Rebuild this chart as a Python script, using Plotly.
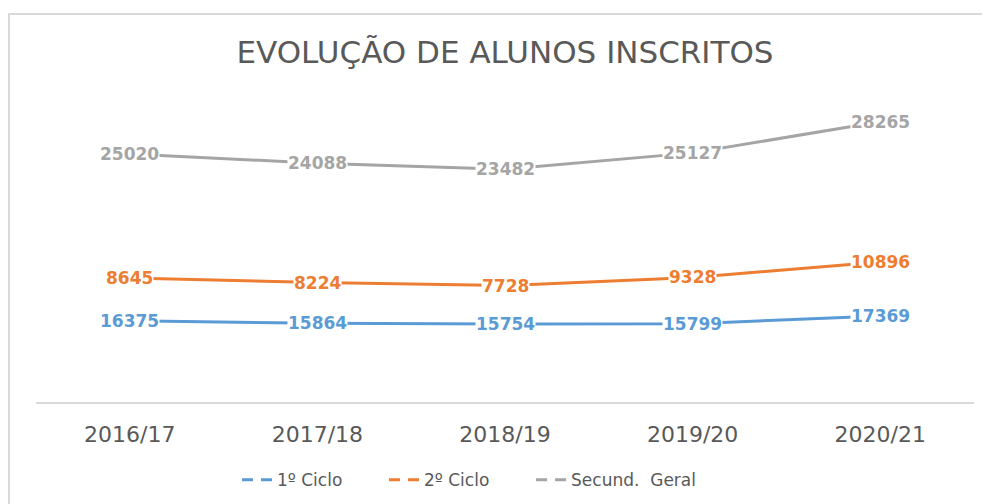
import numpy as np
import plotly.graph_objects as go

anos = ["2016/17", "2017/18", "2018/19", "2019/20", "2020/21"]
ciclo1 = [16375, 15864, 15754, 15799, 17369]
ciclo2 = [8645, 8224, 7728, 9328, 10896]
secund = [25020, 24088, 23482, 25127, 28265]

series = [
    ("1º Ciclo", ciclo1, "#5B9BD5"),
    ("2º Ciclo", ciclo2, "#ED7D31"),
    ("Secund.  Geral", secund, "#A5A5A5"),
]
legendas = ["legend", "legend2", "legend3"]
leg_x = [0.2143, 0.3710, 0.5278]

fig = go.Figure()
acum = np.zeros(len(anos))
annotations = []
for (nome, vals, cor), leg in zip(series, legendas):
    # stacked line chart (like Excel "linhas empilhadas")
    fig.add_trace(go.Scatter(
        x=anos, y=vals, name=nome, mode='lines',
        stackgroup='um', fill='none',
        line=dict(color=cor, width=3),
        showlegend=False,
    ))
    acum = acum + np.array(vals)
    for a, v, t in zip(anos, acum, vals):
        annotations.append(dict(
            x=a, y=v, text=str(t), showarrow=False,
            font=dict(family="DejaVu Sans", size=17, color=cor, weight="bold"),
            bgcolor="white", borderpad=0,
        ))
    # legend entry (dashed symbol like the original)
    fig.add_trace(go.Scatter(
        x=[None], y=[None], name=nome, mode='lines', legend=leg,
        line=dict(color=cor, width=3, dash='11px,8px'),
    ))

leg_style = dict(
    orientation='h', xanchor='left', y=-0.225, yanchor='middle',
    font=dict(family="DejaVu Sans", size=17, color="#595959"),
)

fig.update_layout(
    width=990, height=504,
    margin=dict(l=28, r=24, t=47, b=110),
    paper_bgcolor="white", plot_bgcolor="white",
    title=dict(
        text="EVOLUÇÃO DE ALUNOS INSCRITOS",
        x=497 / 990, xanchor='center', y=1 - 44 / 504, yanchor='middle', yref='container',
        font=dict(family="DejaVu Sans", size=31, color="#595959"),
    ),
    xaxis=dict(
        type='category', range=[-0.5, 4.5],
        showline=True, linecolor="#D9D9D9", linewidth=1.5,
        showgrid=False, ticks="", ticklabelstandoff=12,
        tickfont=dict(family="DejaVu Sans", size=22, color="#595959"),
    ),
    yaxis=dict(range=[0, 70000], visible=False, showgrid=False),
    legend=dict(x=leg_x[0], **leg_style),
    legend2=dict(x=leg_x[1], **leg_style),
    legend3=dict(x=leg_x[2], **leg_style),
    annotations=annotations,
    shapes=[dict(
        type='rect', xref='paper', yref='paper',
        x0=-0.0288, x1=1.2, y0=-0.6, y1=1.118,
        line=dict(color="#D9D9D9", width=2),
    )],
)

fig.write_html("out.html")
